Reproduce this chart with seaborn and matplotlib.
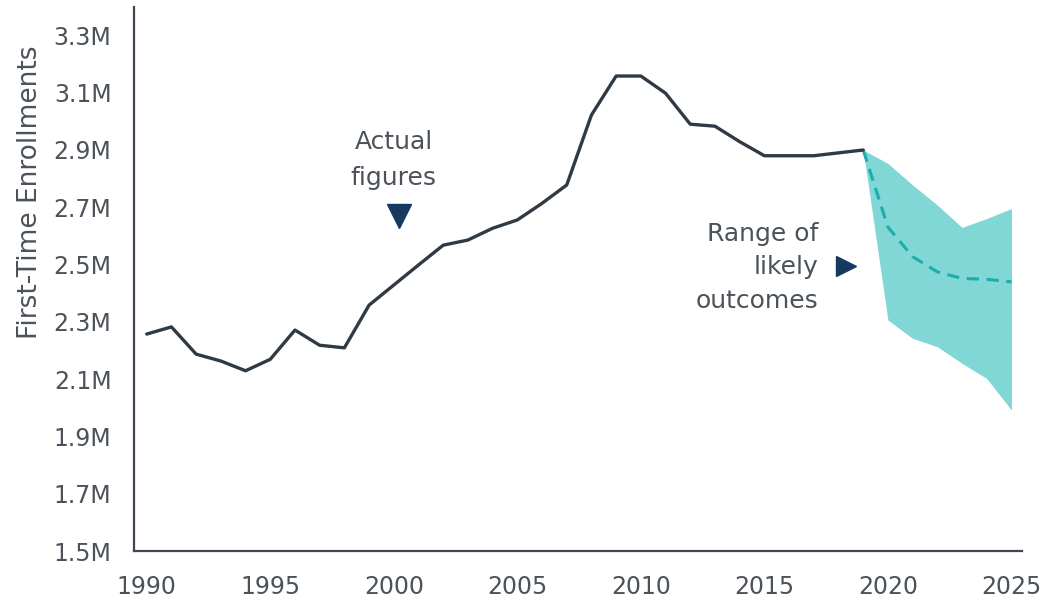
import matplotlib
matplotlib.use("Agg")
import matplotlib.pyplot as plt
import numpy as np
import pandas as pd
import seaborn as sns

## Data (millions)
years = list(range(1990, 2020))
enrollments = [2.257, 2.282, 2.187, 2.163, 2.129, 2.169, 2.271, 2.218, 2.209, 2.358,
               2.428, 2.498, 2.567, 2.585, 2.626, 2.655, 2.713, 2.777, 3.021, 3.157,
               3.157, 3.097, 2.989, 2.982, 2.928, 2.879, 2.879, 2.879, 2.889, 2.899]

proj_years = [2019, 2020, 2021, 2022, 2023, 2024, 2025]
proj_mid = [2.899, 2.630, 2.527, 2.474, 2.451, 2.448, 2.439]
proj_high = [2.899, 2.852, 2.777, 2.707, 2.629, 2.660, 2.695]
proj_low = [2.899, 2.306, 2.242, 2.213, 2.155, 2.102, 1.992]

y_ticks = [1.5, 1.7, 1.9, 2.1, 2.3, 2.5, 2.7, 2.9, 3.1, 3.3]
x_ticks = [1990, 1995, 2000, 2005, 2010, 2015, 2020, 2025]

actual = pd.DataFrame({"Year": years, "Enrollments": enrollments})
proj = pd.DataFrame({"Year": proj_years, "Mid": proj_mid, "High": proj_high, "Low": proj_low})

## Plot
sns.set_style("white")
plt.rcParams['font.family'] = ['DejaVu Sans']

TEXT = '#4b5259'
LINE = '#2f3a44'
NAVY = '#163a5f'

fig = plt.figure(figsize=(10.44, 6.01), dpi=100)
ax = fig.add_axes([0.128, 0.083, 0.851, 0.905])

ax.fill_between(proj["Year"], proj["Low"], proj["High"], color='#80d7d6', linewidth=0, zorder=1)
sns.lineplot(data=proj, x="Year", y="Mid", ax=ax, color='#1aaeac', linewidth=2.2,
             linestyle=(0, (4, 2.5)), zorder=2)
sns.lineplot(data=actual, x="Year", y="Enrollments", ax=ax, color=LINE, linewidth=2.4, zorder=3)

ax.set_xlim(1989.47, 2025.43)
ax.set_ylim(1.5, 3.397)
ax.set_xticks(x_ticks)
ax.set_yticks(y_ticks)
ax.set_yticklabels([f"{v:.1f}M" for v in y_ticks])
ax.tick_params(axis='both', length=0, labelsize=17, labelcolor=TEXT)
ax.tick_params(axis='y', pad=16)
ax.tick_params(axis='x', pad=17)

sns.despine(ax=ax)
for s in ['left', 'bottom']:
    ax.spines[s].set_color('#3e4852')
    ax.spines[s].set_linewidth(1.6)

ax.set_xlabel('')
ax.set_ylabel('First-Time Enrollments', fontsize=19, color=TEXT)
ax.yaxis.set_label_coords(-0.102, 0.66)

# annotations
ax.text(2000.0, 2.864, 'Actual\nfigures', ha='center', va='center', fontsize=18,
        color=TEXT, linespacing=1.6)
ax.plot([2000.2], [2.668], marker='v', markersize=17, color=NAVY, linestyle='none')
ax.text(2017.2, 2.49, 'Range of\nlikely\noutcomes', ha='right', va='center', fontsize=18,
        color=TEXT, linespacing=1.5, multialignment='right')
ax.plot([2018.3], [2.494], marker='>', markersize=15, color=NAVY, linestyle='none')

fig.savefig('out.png', dpi=100)
